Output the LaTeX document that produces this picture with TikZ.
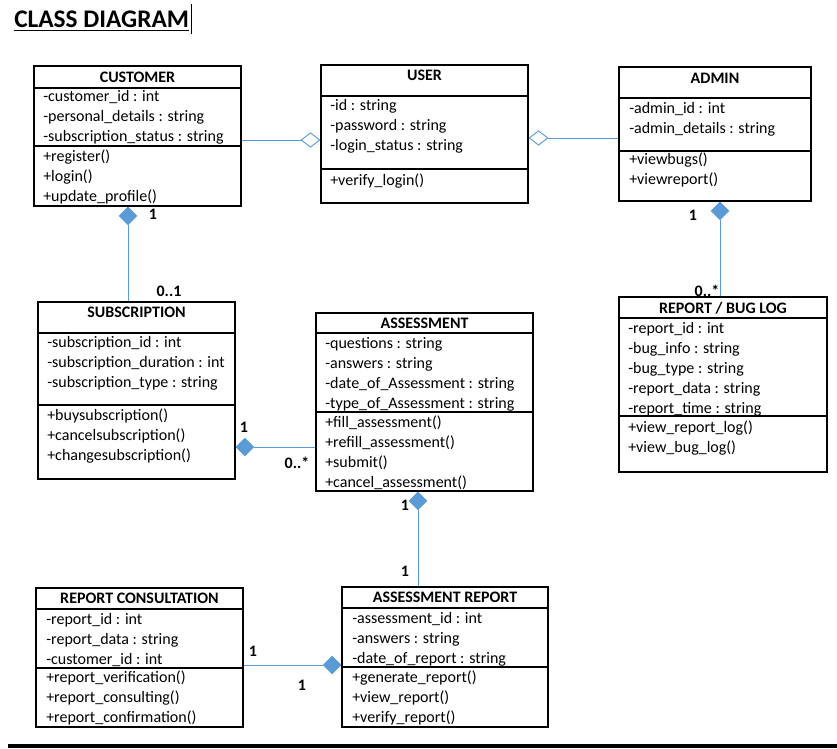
\documentclass[tikz,border=0pt]{standalone}
\usepackage{fontspec}
\setmainfont{Carlito}
\usepackage{xcolor}
\usepackage{tikz}
\usetikzlibrary{arrows.meta,positioning,fit,calc}

\definecolor{umlblue}{HTML}{5B9BD5}

\begin{document}
\begin{tikzpicture}[
		x=0.75pt, y=-0.75pt,
		every node/.style={font=\fontsize{12}{14}\selectfont},
		classbox/.style={draw, line width=0.8pt, inner sep=0pt, fit={#1}},
		classname/.style={font=\fontsize{12}{14}\selectfont\bfseries, inner sep=0pt},
		member/.style={anchor=base west, inner sep=0pt},
		divider/.style={line width=0.8pt},
		mult/.style={font=\fontsize{12}{14}\selectfont\bfseries, inner sep=0pt},
		link/.style={draw=umlblue, line width=0.7pt},
		comp/.style={link, {Diamond[length=14pt, width=14pt, fill=umlblue]}-},
		aggr/.style={link, {Diamond[open, length=15pt, width=11.5pt, fill=white]}-}
		]
		
		\useasboundingbox (0,0) rectangle (837,748);
		
		\node[anchor=base west, inner sep=0pt, font=\fontsize{19}{22}\selectfont\bfseries] (title) at (14,28) {\underline{CLASS DIAGRAM}};
		\draw[line width=0.6pt] (191,4) -- (191,34);
		
		\node[classbox={(34,66)(241,206)}] (customer) {};
		\node[classname] (customer-t) at (customer.north |- 0,77) {CUSTOMER};
		\draw[divider] (customer.west |- 0,88) -- (customer.east |- 0,88);
		\draw[divider] (customer.west |- 0,146) -- (customer.east |- 0,146);
		\foreach \t [count=\i] in {-customer\_id : int, -personal\_details : string, -subscription\_status : string}
			\node[member] (customer-a\i) at (43,82+20*\i) {\t};
		\foreach \t [count=\i] in {+register(), +login(), +update\_profile()}
			\node[member] (customer-m\i) at (43,142+20*\i) {\t};
		
		\node[classbox={(321,65)(528,203)}] (user) {};
		\node[classname] (user-t) at (user.north |- 0,75) {USER};
		\draw[divider] (user.west |- 0,96) -- (user.east |- 0,96);
		\draw[divider] (user.west |- 0,169) -- (user.east |- 0,169);
		\foreach \t [count=\i] in {-id : string, -password : string, -login\_status : string}
			\node[member] (user-a\i) at (330,91+20*\i) {\t};
		\foreach \t [count=\i] in {+verify\_login()}
			\node[member] (user-m\i) at (330,166+20*\i) {\t};
		
		\node[classbox={(619,67)(811,201)}] (admin) {};
		\node[classname] (admin-t) at (admin.north |- 0,78) {ADMIN};
		\draw[divider] (admin.west |- 0,98) -- (admin.east |- 0,98);
		\draw[divider] (admin.west |- 0,151) -- (admin.east |- 0,151);
		\foreach \t [count=\i] in {-admin\_id : int, -admin\_details : string}
			\node[member] (admin-a\i) at (629,94+20*\i) {\t};
		\foreach \t [count=\i] in {+viewbugs(), +viewreport()}
			\node[member] (admin-m\i) at (629,145+20*\i) {\t};
		
		\node[classbox={(38,302)(235,479)}] (subscr) {};
		\node[classname] (subscr-t) at (subscr.north |- 0,312) {SUBSCRIPTION};
		\draw[divider] (subscr.west |- 0,333) -- (subscr.east |- 0,333);
		\draw[divider] (subscr.west |- 0,405) -- (subscr.east |- 0,405);
		\foreach \t [count=\i] in {-subscription\_id : int, -subscription\_duration : int, -subscription\_type : string}
			\node[member] (subscr-a\i) at (47,327+20*\i) {\t};
		\foreach \t [count=\i] in {+buysubscription(), +cancelsubscription(), +changesubscription()}
			\node[member] (subscr-m\i) at (47,400+20*\i) {\t};
		
		\node[classbox={(316,313)(533,491)}] (assess) {};
		\node[classname] (assess-t) at (assess.north |- 0,323) {ASSESSMENT};
		\draw[divider] (assess.west |- 0,333) -- (assess.east |- 0,333);
		\draw[divider] (assess.west |- 0,412) -- (assess.east |- 0,412);
		\foreach \t [count=\i] in {-questions : string, -answers : string, -date\_of\_Assessment : string, -type\_of\_Assessment : string}
			\node[member] (assess-a\i) at (325,328+20*\i) {\t};
		\foreach \t [count=\i] in {+fill\_assessment(), +refill\_assessment(), +submit(), +cancel\_assessment()}
			\node[member] (assess-m\i) at (325,407+20*\i) {\t};
		
		\node[classbox={(619,297)(827,472)}] (buglog) {};
		\node[classname] (buglog-t) at (buglog.north |- 0,308) {REPORT / BUG LOG};
		\draw[divider] (buglog.west |- 0,318) -- (buglog.east |- 0,318);
		\draw[divider] (buglog.west |- 0,416) -- (buglog.east |- 0,416);
		\foreach \t [count=\i] in {-report\_id : int, -bug\_info : string, -bug\_type : string, -report\_data : string, -report\_time : string}
			\node[member] (buglog-a\i) at (628,313+20*\i) {\t};
		\foreach \t [count=\i] in {+view\_report\_log(), +view\_bug\_log()}
			\node[member] (buglog-m\i) at (628,412+20*\i) {\t};
		
		\node[classbox={(36,588)(243,727)}] (consult) {};
		\node[classname] (consult-t) at (consult.north |- 0,598) {REPORT CONSULTATION};
		\draw[divider] (consult.west |- 0,609) -- (consult.east |- 0,609);
		\draw[divider] (consult.west |- 0,668) -- (consult.east |- 0,668);
		\foreach \t [count=\i] in {-report\_id : int, -report\_data : string, -customer\_id : int}
			\node[member] (consult-a\i) at (46,604+20*\i) {\t};
		\foreach \t [count=\i] in {+report\_verification(), +report\_consulting(), +report\_confirmation()}
			\node[member] (consult-m\i) at (46,662+20*\i) {\t};
		
		\node[classbox={(342,587)(548,727)}] (areport) {};
		\node[classname] (areport-t) at (areport.north |- 0,597) {ASSESSMENT REPORT};
		\draw[divider] (areport.west |- 0,608) -- (areport.east |- 0,608);
		\draw[divider] (areport.west |- 0,667) -- (areport.east |- 0,667);
		\foreach \t [count=\i] in {-assessment\_id : int, -answers : string, -date\_of\_report : string}
			\node[member] (areport-a\i) at (352,603+20*\i) {\t};
		\foreach \t [count=\i] in {+generate\_report(), +view\_report(), +verify\_report()}
			\node[member] (areport-m\i) at (352,662+20*\i) {\t};
		
		\draw[aggr] (user.west |- 0,140) -- (customer.east |- 0,140);
		\draw[aggr] (user.east |- 0,138) -- (admin.west |- 0,138);
		\draw[comp] (128,0 |- customer.south) -- (128,0 |- subscr.north);
		\draw[comp] (720,0 |- admin.south) -- (720,0 |- buglog.north);
		\draw[comp] (subscr.east |- 0,447) -- (assess.west |- 0,447);
		\draw[comp] (418,0 |- assess.south) -- (418,0 |- areport.north);
		\draw[comp] (areport.west |- 0,665) -- (consult.east |- 0,665);
		
		\node[mult] (m-cust) at (153,214) {1};
		\node[mult] (m-subscr) at (169,291) {0..1};
		\node[mult] (m-admin) at (693,215) {1};
		\node[mult] (m-buglog) at (707,291) {0..*};
		\node[mult] (m-subscr2) at (244,427) {1};
		\node[mult] (m-assess) at (297,463) {0..*};
		\node[mult] (m-assess2) at (405,505) {1};
		\node[mult] (m-areport) at (405,571) {1};
		\node[mult] (m-consult) at (253,651) {1};
		\node[mult] (m-areport2) at (302,685) {1};
		
		\draw[line width=2.4pt] (8,746) -- (837,746);
		
	\end{tikzpicture}
\end{document}
